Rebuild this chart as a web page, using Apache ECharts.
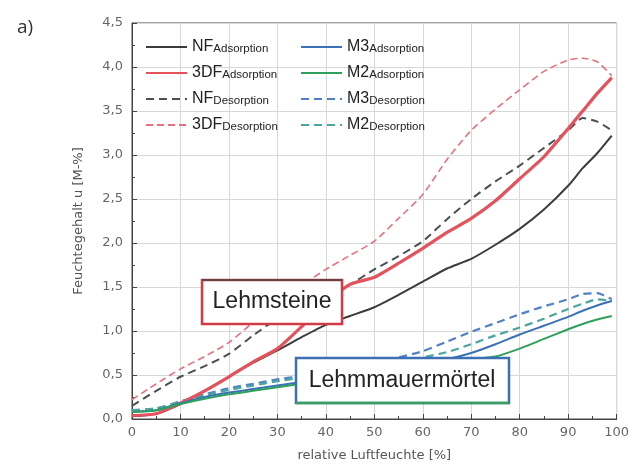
<!DOCTYPE html>
<html><head><meta charset="utf-8">
<script src="https://cdn.jsdelivr.net/npm/echarts@6/dist/echarts.min.js"></script>
<style>html,body{margin:0;padding:0;background:#fff}#c{width:632px;height:467px}</style>
</head><body><div id="c"></div>
<script>
// relative humidity [%]
const rh = [0, 5, 10, 15, 20, 25, 30, 35, 40, 45, 50, 55, 60, 65, 70, 75, 80, 85, 90, 93, 96, 99];
// moisture content u [M-%]
const nfAds   = [0.03,0.06,0.17,0.32,0.48,0.64,0.78,0.93,1.07,1.17,1.27,1.41,1.56,1.71,1.82,1.98,2.16,2.38,2.65,2.85,3.02,3.22];
const df3Ads  = [0.04,0.06,0.18,0.32,0.48,0.65,0.80,1.05,1.32,1.53,1.61,1.77,1.94,2.12,2.28,2.48,2.73,2.98,3.30,3.50,3.70,3.88];
const nfDes   = [0.15,0.32,0.48,0.60,0.74,0.95,1.14,1.28,1.42,1.53,1.70,1.85,2.02,2.27,2.50,2.70,2.88,3.08,3.28,3.42,3.38,3.28];
const df3Des  = [0.22,0.40,0.57,0.71,0.87,1.10,1.33,1.52,1.70,1.86,2.02,2.28,2.55,2.95,3.28,3.52,3.74,3.95,4.08,4.10,4.06,3.90];
const m3Ads   = [0.08,0.10,0.18,0.25,0.30,0.34,0.38,0.42,0.46,0.50,0.55,0.60,0.64,0.68,0.75,0.85,0.96,1.06,1.16,1.23,1.29,1.34];
const m2Ads   = [0.08,0.10,0.17,0.23,0.28,0.32,0.36,0.40,0.44,0.48,0.52,0.56,0.60,0.64,0.68,0.71,0.80,0.91,1.02,1.08,1.13,1.17];
const m3Des   = [0.10,0.12,0.20,0.28,0.35,0.40,0.45,0.49,0.54,0.59,0.64,0.70,0.77,0.88,0.99,1.09,1.19,1.28,1.36,1.42,1.43,1.36];
const m2Des   = [0.10,0.12,0.20,0.27,0.33,0.38,0.43,0.47,0.51,0.55,0.60,0.65,0.70,0.76,0.85,0.95,1.04,1.14,1.25,1.31,1.36,1.34];
const yTicks = ['0,0','0,5','1,0','1,5','2,0','2,5','3,0','3,5','4,0','4,5'];

const pairs = v => rh.map((x, i) => [x, v[i]]);
const mk = (name, vals, color, width, type, z) => ({
  name, type: 'line', data: pairs(vals), symbol: 'none', showSymbol: false, smooth: 0.2, z: z,
  lineStyle: { color, width, type }, itemStyle: { color }
});
const series = [
  mk('3DF_Desorption', df3Des, '#e8707e', 1.6, [7, 4], 3),
  mk('NF_Desorption',  nfDes,  '#4a4f55', 2,   [8, 5], 3),
  mk('M3_Desorption',  m3Des,  '#4f82c4', 2.2, [8, 5], 3),
  mk('M2_Desorption',  m2Des,  '#4aa6a0', 2.2, [8, 5], 3),
  mk('NF_Adsorption',  nfAds,  '#3c3c3c', 2,   'solid', 4),
  mk('3DF_Adsorption', df3Ads, '#e5525c', 3.2, 'solid', 4),
  mk('M3_Adsorption',  m3Ads,  '#3a70b8', 2,   'solid', 4),
  mk('M2_Adsorption',  m2Ads,  '#2fa05c', 2,   'solid', 4)
];
const legendText = {
  fontFamily: 'Liberation Sans',
  rich: {
    m: { fontSize: 16, color: '#222', fontFamily: 'Liberation Sans', lineHeight: 16, verticalAlign: 'top' },
    s: { fontSize: 11.5, color: '#222', fontFamily: 'Liberation Sans', lineHeight: 10, verticalAlign: 'bottom', padding: [11, 0, 0, 0] }
  }
};
const fmt = n => { const p = n.split('_'); return '{m|' + p[0] + '}{s|' + p[1] + '}'; };
const legBase = { orient: 'vertical', itemWidth: 41, itemHeight: 14, itemGap: 3, formatter: fmt, textStyle: legendText,
  selectedMode: false, padding: 0, itemStyle: { opacity: 0, borderWidth: 0 } };

const axisFont = 'DejaVu Sans';
const chart = echarts.init(document.getElementById('c'));
chart.setOption({
  animation: false,
  backgroundColor: '#fff',
  grid: { left: 132, right: 15, top: 23, bottom: 44, show: true, borderColor: '#444', borderWidth: 1 },
  legend: [
    Object.assign({}, legBase, { left: 145, top: 32, data: ['NF_Adsorption', '3DF_Adsorption', 'NF_Desorption', '3DF_Desorption'] }),
    Object.assign({}, legBase, { left: 300, top: 32, data: ['M3_Adsorption', 'M2_Adsorption', 'M3_Desorption', 'M2_Desorption'] })
  ],
  xAxis: {
    type: 'value', min: 0, max: 100, interval: 10,
    name: 'relative Luftfeuchte [%]', nameLocation: 'middle', nameGap: 30,
    nameTextStyle: { fontSize: 13, color: '#555', fontFamily: axisFont },
    axisLine: { lineStyle: { color: '#444' } },
    axisTick: { inside: true, length: 5, lineStyle: { color: '#444' } },
    minorTick: { show: true, splitNumber: 2, length: 3, lineStyle: { color: '#444' } },
    axisLabel: { fontSize: 13, color: '#666', margin: 7, fontFamily: axisFont },
    splitLine: { lineStyle: { color: '#d8d8d8' } }
  },
  yAxis: {
    type: 'value', min: 0, max: 4.5, interval: 0.5,
    name: 'Feuchtegehalt u [M-%]', nameLocation: 'middle', nameGap: 47,
    nameTextStyle: { fontSize: 13, color: '#555', fontFamily: axisFont },
    axisLine: { show: true, lineStyle: { color: '#444' } },
    axisTick: { show: true, inside: true, length: 5, lineStyle: { color: '#444' } },
    minorTick: { show: true, splitNumber: 2, length: 3, lineStyle: { color: '#444' } },
    axisLabel: { fontSize: 13, color: '#666', margin: 9, fontFamily: axisFont,
      formatter: v => yTicks[Math.round(v / 0.5)] },
    splitLine: { lineStyle: { color: '#d8d8d8' } }
  },
  graphic: [
    { type: 'text', left: 17, top: 18, style: { text: 'a)', fontSize: 19, fill: '#333', fontFamily: 'Open Sans' } },
    { type: 'rect', z: 100, shape: { x: 202, y: 280, width: 140, height: 44 },
      style: { fill: '#fff', stroke: '#d23a44', lineWidth: 2.5 } },
    { type: 'line', z: 101, shape: { x1: 202, y1: 280, x2: 342, y2: 280 }, style: { stroke: '#444', lineWidth: 1.5 } },
    { type: 'text', z: 102, x: 272, y: 302, style: { text: 'Lehmsteine', fontSize: 23, fill: '#222', fontFamily: 'Liberation Sans', align: 'center', verticalAlign: 'middle' } },
    { type: 'rect', z: 100, shape: { x: 296, y: 358, width: 213, height: 45 },
      style: { fill: '#fff', stroke: '#3e6fb5', lineWidth: 2.5 } },
    { type: 'line', z: 101, shape: { x1: 296, y1: 403, x2: 509, y2: 403 }, style: { stroke: '#3aa060', lineWidth: 2.5 } },
    { type: 'text', z: 102, x: 402, y: 381, style: { text: 'Lehmmauermörtel', fontSize: 23, fill: '#222', fontFamily: 'Liberation Sans', align: 'center', verticalAlign: 'middle' } }
  ],
  series
});
</script></body></html>
